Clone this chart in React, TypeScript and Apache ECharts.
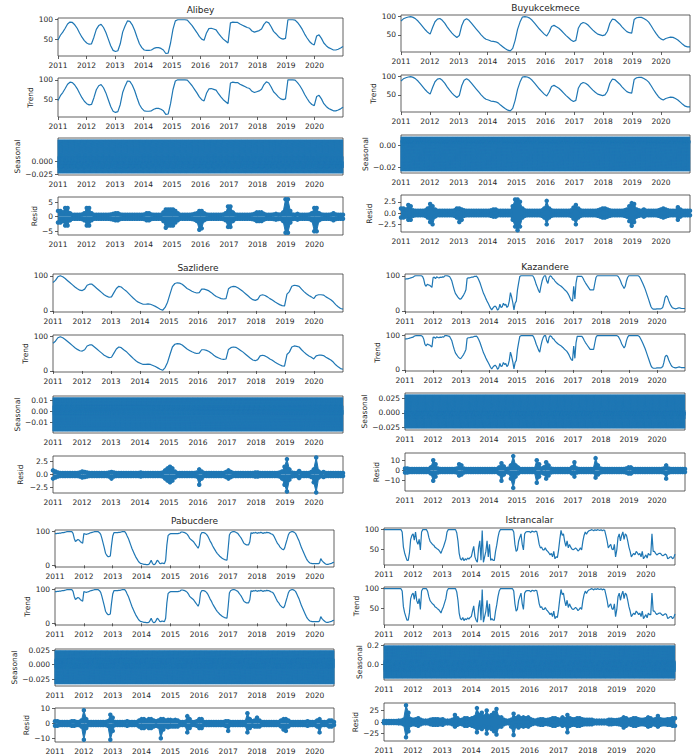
import React, { useEffect, useRef } from "react";
import * as echarts from "echarts";

const YEARS = [2011, 2012, 2013, 2014, 2015, 2016, 2017, 2018, 2019, 2020];

// ---------------- Alibey (monthly) ----------------
const alibeyObserved = [
  48, 60, 68, 78, 89, 94, 93, 87, 78, 66, 55, 46,
  40, 37, 38, 55, 75, 85, 88, 80, 67, 50, 33, 21,
  18, 20, 38, 68, 84, 97, 96, 87, 73, 55, 38, 28,
  22, 21, 21, 22, 26, 28, 28, 26, 22, 13, 14, 40,
  75, 97, 100, 100, 100, 100, 99, 92, 85, 76, 67, 57,
  50, 47, 66, 77, 78, 76, 74, 65, 57, 50, 45, 40,
  92, 94, 93, 93, 89, 86, 83, 80, 78, 71, 68, 70,
  72, 76, 88, 95, 92, 82, 70, 64, 57, 52, 50, 52,
  100, 100, 100, 99, 93, 85, 75, 63, 53, 44, 38, 35,
  58, 61, 52, 40, 33, 28, 25, 22, 22, 24, 27, 31,
];
const alibeyTrend = alibeyObserved.slice();
const alibeySeasonal = [0.0425, -0.005, -0.0228, 0.01, -0.012, 0.0, -0.0127];
const alibeyResidUpper = [
  2.0, 2.0, 1.5, 3.0, 3.0, 1.2, 0.7, 0.7, 0.7, 0.7, 0.8, 1.2,
  3.0, 3.0, 1.2, 0.7, 0.7, 0.7, 0.7, 0.7, 0.7, 0.7, 0.8, 1.0,
  1.2, 1.2, 0.8, 0.7, 0.7, 0.7, 0.7, 0.7, 0.7, 0.7, 0.7, 0.7,
  0.8, 1.2, 1.2, 0.8, 0.7, 0.7, 0.7, 0.7, 1.5, 2.5, 2.5, 2.5,
  2.5, 2.0, 1.2, 0.7, 0.7, 0.7, 0.7, 0.7, 0.8, 1.0, 1.2, 2.0,
  2.0, 1.2, 0.8, 0.7, 0.7, 0.7, 0.7, 0.7, 0.7, 0.8, 1.2, 3.5,
  3.5, 1.5, 0.8, 0.7, 0.7, 0.7, 0.7, 0.7, 0.7, 0.8, 1.0, 1.5,
  1.5, 1.5, 1.0, 0.7, 0.7, 0.7, 0.8, 1.0, 0.8, 0.8, 1.5, 6.0,
  6.0, 2.0, 0.8, 0.7, 1.0, 0.7, 0.7, 0.7, 0.7, 0.8, 1.2, 3.0,
  3.0, 1.2, 0.8, 0.7, 0.7, 0.7, 0.8, 1.2, 0.8, 0.7, 0.7, 0.7,
];
const alibeyResidLower = [
  -2.0, -2.0, -1.5, -3.0, -3.0, -1.2, -0.7, -0.7, -0.7, -0.7, -0.8, -1.2,
  -3.0, -3.0, -1.2, -0.7, -0.7, -0.7, -0.7, -0.7, -0.7, -0.7, -0.8, -1.0,
  -1.2, -1.2, -0.8, -0.7, -0.7, -0.7, -0.7, -0.7, -0.7, -0.7, -0.7, -0.7,
  -0.8, -1.2, -1.2, -0.8, -0.7, -0.7, -0.7, -0.7, -1.5, -3.8, -3.0, -3.0,
  -3.0, -2.0, -1.2, -0.7, -0.7, -0.7, -0.7, -0.7, -0.8, -1.0, -1.5, -4.5,
  -4.0, -1.2, -0.8, -0.7, -0.7, -0.7, -0.7, -0.7, -0.7, -0.8, -1.2, -3.5,
  -3.5, -1.5, -0.8, -0.7, -0.7, -0.7, -0.7, -0.7, -0.7, -0.8, -1.0, -1.5,
  -1.5, -1.5, -1.0, -0.7, -0.7, -0.7, -0.8, -1.0, -0.8, -0.8, -1.5, -5.5,
  -5.5, -2.0, -0.8, -0.7, -1.0, -0.7, -0.7, -0.7, -0.7, -0.8, -1.2, -5.0,
  -5.0, -1.2, -0.8, -0.7, -0.7, -0.7, -0.8, -1.2, -0.8, -0.7, -0.7, -0.7,
];
const alibeyObsTicks = [50, 100];
const alibeySeasTicks = [-0.025, 0];
const alibeyResidTicks = [-5, 0, 5];

// ---------------- Buyukcekmece (monthly) ----------------
const buyukObserved = [
  88, 94, 97, 99, 100, 98, 94, 88, 80, 72, 64, 57,
  52, 70, 86, 93, 95, 90, 82, 72, 63, 55, 48, 43,
  48, 75, 90, 94, 90, 82, 74, 66, 58, 50, 43, 38,
  36, 33, 32, 31, 28, 22, 17, 12, 8, 6, 13, 35,
  65, 85, 99, 100, 99, 96, 90, 82, 74, 66, 59, 52,
  47, 58, 73, 76, 72, 68, 62, 55, 48, 42, 36, 32,
  35, 68, 80, 84, 82, 77, 70, 63, 57, 52, 50, 48,
  50, 60, 82, 93, 92, 86, 80, 72, 65, 59, 56, 55,
  92, 97, 98, 98, 95, 91, 85, 75, 64, 54, 45, 39,
  36, 40, 42, 44, 43, 40, 36, 30, 24, 19, 17, 17,
];
const buyukTrend = buyukObserved.slice();
const buyukSeasonal = [0.008, -0.0234, 0.005, 0.003, 0.004, 0.002, 0.0014];
const buyukResidUpper = [
  1.0, 1.0, 0.8, 1.8, 1.5, 0.6, 0.5, 0.5, 0.5, 0.5, 0.6, 1.0,
  2.0, 1.5, 0.8, 0.5, 0.5, 0.5, 0.5, 0.5, 0.5, 0.5, 0.6, 1.0,
  1.0, 0.8, 0.6, 0.5, 0.5, 0.5, 0.5, 0.5, 0.5, 0.5, 0.5, 0.5,
  0.5, 0.6, 0.8, 0.8, 0.5, 0.5, 0.5, 0.5, 0.5, 0.5, 1.5, 3.0,
  3.0, 2.5, 1.0, 0.6, 0.5, 0.5, 0.5, 0.5, 0.5, 0.5, 0.6, 1.0,
  2.7, 1.0, 0.6, 0.5, 0.5, 0.5, 0.5, 0.5, 0.5, 0.5, 0.6, 1.2,
  1.8, 1.0, 0.6, 0.5, 0.5, 0.5, 0.5, 0.5, 0.5, 0.6, 0.8, 1.0,
  1.0, 0.8, 0.6, 0.5, 0.5, 0.5, 0.5, 0.5, 0.6, 0.8, 1.5, 2.2,
  2.0, 0.8, 0.6, 0.5, 0.8, 0.5, 0.5, 0.5, 0.5, 0.5, 0.6, 0.8,
  1.0, 0.8, 0.6, 0.5, 0.5, 0.5, 1.3, 0.8, 0.5, 0.5, 0.5, 0.5,
];
const buyukResidLower = [
  -1.0, -1.0, -0.8, -1.5, -1.5, -0.6, -0.5, -0.5, -0.5, -0.5, -0.6, -1.0,
  -2.0, -2.5, -0.8, -0.5, -0.5, -0.5, -0.5, -0.5, -0.5, -0.5, -0.6, -1.0,
  -2.0, -1.5, -0.6, -0.5, -0.5, -0.5, -0.5, -0.5, -0.5, -0.5, -0.5, -0.5,
  -0.5, -0.6, -0.8, -0.8, -0.5, -0.5, -0.5, -0.5, -0.5, -0.5, -1.5, -3.0,
  -3.8, -3.0, -1.0, -0.6, -0.5, -0.5, -0.5, -0.5, -0.5, -0.5, -0.6, -1.0,
  -2.5, -1.0, -0.6, -0.5, -0.5, -0.5, -0.5, -0.5, -0.5, -0.5, -0.6, -1.2,
  -2.5, -1.0, -0.6, -0.5, -0.5, -0.5, -0.5, -0.5, -0.5, -0.6, -0.8, -1.0,
  -1.0, -0.8, -0.6, -0.5, -0.5, -0.5, -0.5, -0.5, -0.6, -0.8, -1.8, -2.8,
  -2.0, -0.8, -0.6, -0.5, -0.8, -0.5, -0.5, -0.5, -0.5, -0.5, -0.6, -0.8,
  -1.0, -0.8, -0.6, -0.5, -0.5, -0.5, -1.5, -0.8, -0.5, -0.5, -0.5, -0.5,
];
const buyukObsTicks = [50, 100];
const buyukSeasTicks = [-0.02, 0];
const buyukResidTicks = [-2.5, 0, 2.5];

// ---------------- Sazlidere (monthly) ----------------
const sazObserved = [
  81, 87, 97, 100, 97, 92, 86, 80, 74, 68, 63, 59,
  58, 62, 73, 76, 76, 70, 64, 58, 52, 46, 42, 39,
  40, 52, 64, 70, 68, 62, 57, 50, 43, 36, 30, 25,
  22, 19, 19, 20, 19, 16, 13, 9, 5, 2, 10, 25,
  48, 70, 78, 80, 79, 76, 70, 64, 60, 56, 53, 51,
  52, 62, 62, 60, 57, 52, 46, 41, 38, 35, 34, 35,
  63, 68, 70, 69, 65, 60, 55, 49, 43, 37, 32, 30,
  33, 44, 46, 44, 40, 35, 31, 26, 22, 18, 15, 14,
  48, 55, 70, 73, 72, 70, 62, 55, 49, 44, 40, 35,
  44, 46, 46, 45, 40, 36, 32, 26, 18, 12, 7, 5,
];
const sazTrend = sazObserved.slice();
const sazSeasonal = [0.0123, -0.018, 0.005, 0.002, -0.003, 0.001, 0.0007];
const sazResidUpper = [
  0.8, 0.6, 0.4, 0.3, 0.3, 0.3, 0.3, 0.3, 0.3, 0.3, 0.3, 0.4,
  0.6, 0.5, 0.4, 0.3, 0.3, 0.3, 0.3, 0.3, 0.3, 0.3, 0.3, 0.4,
  0.5, 0.4, 0.3, 0.3, 0.3, 0.3, 0.3, 0.3, 0.3, 0.3, 0.3, 0.3,
  0.4, 0.3, 0.3, 0.3, 0.3, 0.3, 0.3, 0.3, 0.3, 0.4, 0.8, 1.2,
  1.5, 1.2, 0.6, 0.3, 0.3, 0.3, 0.3, 0.3, 0.3, 0.3, 0.3, 0.4,
  1.0, 0.6, 0.3, 0.3, 0.3, 0.3, 0.3, 0.3, 0.3, 0.3, 0.3, 0.5,
  0.8, 0.5, 0.3, 0.3, 0.3, 0.3, 0.3, 0.3, 0.3, 0.3, 0.3, 0.4,
  0.4, 0.3, 0.3, 0.3, 0.3, 0.3, 0.3, 0.3, 0.3, 0.4, 0.6, 1.5,
  3.0, 1.0, 0.4, 0.3, 0.3, 0.7, 0.3, 0.3, 0.3, 0.3, 0.5, 1.0,
  3.3, 0.6, 0.3, 0.5, 0.3, 0.3, 0.3, 0.3, 0.3, 0.3, 0.3, 0.3,
];
const sazResidLower = [
  -0.8, -0.6, -0.4, -0.3, -0.3, -0.3, -0.3, -0.3, -0.3, -0.3, -0.3, -0.4,
  -0.6, -0.5, -0.4, -0.3, -0.3, -0.3, -0.3, -0.3, -0.3, -0.3, -0.3, -0.4,
  -0.8, -0.4, -0.3, -0.3, -0.3, -0.3, -0.3, -0.3, -0.3, -0.3, -0.3, -0.3,
  -0.4, -0.3, -0.3, -0.3, -0.3, -0.3, -0.3, -0.3, -0.3, -0.4, -0.8, -1.2,
  -1.5, -1.2, -0.6, -0.3, -0.3, -0.3, -0.3, -0.3, -0.3, -0.3, -0.3, -0.4,
  -2.0, -0.8, -0.3, -0.3, -0.3, -0.3, -0.3, -0.3, -0.3, -0.3, -0.3, -0.5,
  -0.8, -0.5, -0.3, -0.3, -0.3, -0.3, -0.3, -0.3, -0.3, -0.3, -0.3, -0.4,
  -0.4, -0.3, -0.3, -0.3, -0.3, -0.3, -0.3, -0.3, -0.3, -0.4, -0.8, -2.0,
  -3.3, -1.0, -0.4, -0.3, -0.3, -0.7, -0.3, -0.3, -0.3, -0.3, -0.5, -1.5,
  -3.5, -0.6, -0.3, -0.5, -0.3, -0.3, -0.3, -0.3, -0.3, -0.3, -0.3, -0.3,
];
const sazObsTicks = [0, 100];
const sazSeasTicks = [-0.01, 0, 0.01];
const sazResidTicks = [-2.5, 0, 2.5];

// ---------------- Kazandere (semi-monthly) ----------------
const kazObserved = [
  90, 91, 91, 92, 93, 94, 95, 96, 99, 100, 100, 100, 100, 100, 100, 98, 90, 75, 70, 76, 74, 73, 70, 67,
  95, 96, 92, 97, 95, 94, 96, 95, 97, 96, 100, 100, 100, 99, 98, 92, 85, 72, 60, 50, 45, 40, 36, 33,
  35, 40, 45, 52, 60, 92, 94, 94, 95, 96, 96, 98, 98, 99, 95, 88, 80, 70, 60, 50, 43, 35, 28, 22,
  15, 8, 3, 8, 12, 14, 10, 2, 6, 19, 10, 12, 22, 16, 19, 10, 14, 28, 52, 40, 24, 3, 22, 28,
  60, 80, 98, 100, 100, 100, 100, 100, 100, 100, 100, 100, 100, 100, 95, 86, 75, 67, 58, 52, 70, 85, 95, 100,
  100, 85, 78, 95, 100, 98, 92, 90, 85, 81, 78, 75, 73, 71, 68, 65, 61, 58, 55, 50, 44, 36, 30, 28,
  70, 34, 80, 98, 98, 98, 98, 98, 93, 86, 80, 75, 70, 65, 60, 60, 60, 60, 78, 95, 100, 100, 100, 100,
  100, 100, 100, 100, 100, 100, 100, 100, 100, 100, 100, 100, 100, 100, 98, 92, 85, 76, 70, 64, 70, 85, 95, 100,
  100, 100, 100, 100, 100, 100, 100, 100, 98, 92, 85, 78, 70, 62, 52, 42, 32, 22, 12, 7, 5, 5, 5, 6,
  6, 6, 6, 7, 10, 22, 38, 43, 40, 30, 22, 15, 10, 8, 7, 6, 7, 8, 9, 8, 7, 7, 7, 7,
];
const kazTrend = kazObserved.slice();
const kazSeasonal = [0.031, -0.026, 0.005, -0.01, 0.002, -0.004, 0.002];
const kazResidUpper = [
  2.0, 2.0, 1.5, 1.5, 1.5, 1.5, 1.5, 1.5, 1.5, 1.5, 1.5, 3.0,
  10.0, 6.0, 2.0, 1.5, 1.5, 1.5, 1.5, 1.5, 1.5, 1.5, 2.0, 6.0,
  5.0, 2.0, 1.5, 1.5, 1.5, 1.5, 1.5, 1.5, 1.5, 1.5, 1.5, 1.5,
  1.5, 1.5, 1.5, 1.5, 3.0, 7.0, 4.0, 1.5, 2.0, 5.0, 14.0, 5.0,
  3.0, 1.5, 1.5, 1.5, 1.5, 1.5, 1.5, 1.5, 10.0, 6.0, 2.0, 3.0,
  8.0, 5.0, 2.0, 1.5, 1.5, 1.5, 1.5, 1.5, 1.5, 1.5, 1.5, 3.0,
  8.0, 2.0, 1.5, 1.5, 1.5, 1.5, 1.5, 1.5, 1.5, 12.0, 5.0, 2.0,
  1.5, 1.5, 1.5, 1.5, 1.5, 1.5, 1.5, 1.5, 1.5, 1.5, 2.0, 3.0,
  3.0, 1.5, 1.5, 1.5, 1.5, 1.5, 1.5, 1.5, 1.5, 1.5, 1.5, 1.5,
  1.5, 1.5, 2.0, 5.0, 2.0, 1.5, 1.5, 1.5, 1.5, 1.5, 1.5, 1.5,
];
const kazResidLower = [
  -2.0, -2.0, -1.5, -1.5, -1.5, -1.5, -1.5, -1.5, -1.5, -1.5, -1.5, -3.0,
  -10.0, -6.0, -2.0, -1.5, -1.5, -1.5, -1.5, -1.5, -1.5, -1.5, -2.0, -5.0,
  -4.0, -2.0, -1.5, -1.5, -1.5, -1.5, -1.5, -1.5, -1.5, -1.5, -1.5, -1.5,
  -1.5, -1.5, -1.5, -1.5, -3.0, -10.0, -4.0, -1.5, -2.0, -8.0, -17.0, -6.0,
  -3.0, -1.5, -1.5, -1.5, -1.5, -1.5, -1.5, -1.5, -12.0, -6.0, -2.0, -3.0,
  -8.0, -5.0, -2.0, -1.5, -1.5, -1.5, -1.5, -1.5, -1.5, -1.5, -1.5, -3.0,
  -6.0, -2.0, -1.5, -1.5, -1.5, -1.5, -1.5, -1.5, -1.5, -7.0, -4.0, -2.0,
  -1.5, -1.5, -1.5, -1.5, -1.5, -1.5, -1.5, -1.5, -1.5, -1.5, -2.0, -3.0,
  -3.0, -1.5, -1.5, -1.5, -1.5, -1.5, -1.5, -1.5, -1.5, -1.5, -1.5, -1.5,
  -1.5, -1.5, -2.0, -8.0, -2.0, -1.5, -1.5, -1.5, -1.5, -1.5, -1.5, -1.5,
];
const kazObsTicks = [0, 100];
const kazSeasTicks = [-0.025, 0, 0.025];
const kazResidTicks = [-10, 0, 10];

// ---------------- Pabucdere (semi-monthly, ends 2020.67) ----------------
const pabObserved = [
  94, 94, 95, 95, 96, 96, 97, 97, 98, 99, 100, 100, 100, 100, 100, 95, 80, 71, 74, 77, 75, 71, 68, 66,
  94, 93, 92, 93, 94, 96, 97, 98, 99, 100, 100, 100, 100, 97, 92, 80, 66, 52, 36, 30, 26, 26, 28, 60,
  87, 97, 97, 97, 97, 98, 98, 99, 100, 100, 100, 95, 87, 80, 70, 60, 50, 42, 34, 26, 20, 14, 9, 6,
  5, 4, 3, 3, 2, 2, 3, 8, 15, 6, 2, 3, 8, 15, 12, 6, 5, 7, 6, 5, 15, 60, 88, 92,
  94, 94, 94, 94, 94, 94, 94, 95, 96, 99, 99, 98, 97, 95, 92, 87, 80, 77, 74, 71, 66, 61, 56, 51,
  60, 90, 97, 97, 97, 95, 92, 87, 80, 72, 66, 58, 52, 46, 40, 35, 31, 27, 24, 21, 19, 17, 16, 15,
  50, 90, 97, 99, 100, 100, 99, 97, 95, 90, 85, 80, 73, 66, 63, 61, 61, 61, 70, 97, 95, 97, 96, 98,
  95, 97, 96, 98, 97, 95, 97, 96, 98, 97, 97, 95, 93, 92, 87, 80, 72, 65, 61, 55, 51, 48, 46, 52,
  65, 77, 90, 97, 99, 100, 100, 98, 95, 88, 80, 72, 62, 52, 44, 36, 28, 20, 14, 10, 7, 6, 5, 5,
  5, 5, 5, 5, 7, 20, 14, 10, 7, 4, 3, 3, 4, 5, 6, 8, 9,
];
const pabTrend = pabObserved.slice();
const pabSeasonal = [0.024, -0.033, 0.01, -0.005, 0.008, -0.006, 0.002];
const pabResidUpper = [
  1.5, 1.5, 1.0, 1.0, 1.0, 1.0, 1.0, 1.5, 1.5, 1.0, 1.0, 2.0,
  9.0, 3.0, 1.0, 1.0, 1.0, 1.0, 1.0, 1.0, 1.0, 1.0, 1.5, 6.0,
  4.0, 1.0, 1.0, 1.0, 1.0, 1.0, 1.5, 1.0, 1.0, 1.0, 1.0, 2.0,
  3.0, 3.0, 2.0, 3.0, 3.0, 2.0, 1.5, 2.0, 3.0, 3.0, 2.0, 2.5,
  2.5, 2.0, 2.5, 2.0, 1.0, 1.0, 1.0, 5.0, 3.0, 1.0, 1.0, 1.5,
  3.0, 3.0, 1.0, 1.0, 1.0, 1.0, 1.0, 1.0, 1.0, 1.0, 1.0, 1.5,
  1.5, 1.0, 1.0, 1.0, 1.0, 1.0, 1.0, 1.0, 7.0, 3.0, 1.5, 2.0,
  4.0, 2.0, 1.0, 1.0, 1.0, 1.0, 1.0, 1.0, 1.0, 1.0, 2.0, 3.0,
  3.0, 2.0, 1.0, 1.0, 1.0, 1.0, 1.0, 1.0, 1.0, 1.5, 1.0, 1.0,
  1.0, 2.0, 3.0, 1.0, 1.0, 1.0, 2.0, 2.0, 1.0,
];
const pabResidLower = [
  -1.5, -1.5, -1.0, -1.0, -1.0, -1.0, -1.0, -1.5, -1.5, -1.0, -1.0, -2.0,
  -11.0, -3.0, -1.0, -1.0, -1.0, -1.0, -1.0, -1.0, -1.0, -1.0, -1.5, -11.0,
  -5.0, -1.0, -1.0, -1.0, -1.0, -1.0, -1.5, -1.0, -1.0, -1.0, -1.0, -2.0,
  -3.0, -3.0, -2.0, -3.0, -3.0, -2.0, -1.5, -2.0, -10.0, -4.0, -2.0, -2.5,
  -2.0, -2.0, -2.0, -2.0, -1.0, -1.0, -1.0, -6.0, -3.0, -1.0, -1.0, -1.5,
  -3.0, -3.0, -1.0, -1.0, -1.0, -1.0, -1.0, -1.0, -1.0, -1.0, -1.0, -1.5,
  -5.0, -1.0, -1.0, -1.0, -1.0, -1.0, -1.0, -1.0, -6.0, -3.0, -1.5, -2.0,
  -2.0, -2.0, -1.0, -1.0, -1.0, -1.0, -1.0, -1.0, -1.0, -1.0, -2.0, -4.0,
  -5.0, -2.0, -1.0, -1.0, -1.0, -1.0, -1.0, -1.0, -1.0, -1.5, -1.0, -1.0,
  -1.0, -2.0, -6.0, -1.0, -1.0, -1.0, -2.0, -2.0, -1.0,
];
const pabObsTicks = [0, 100];
const pabSeasTicks = [-0.025, 0, 0.025];
const pabResidTicks = [-10, 0, 10];

// ---------------- Istrancalar (semi-monthly) ----------------
const istObserved = [
  100, 100, 100, 100, 100, 100, 100, 100, 100, 100, 100, 100, 100, 100, 100, 94, 55, 40, 30, 21, 21, 40, 75, 85,
  89, 73, 94, 70, 62, 75, 48, 94, 100, 100, 100, 100, 94, 80, 70, 66, 62, 60, 55, 53, 50, 48, 44, 39,
  48, 55, 65, 75, 94, 100, 100, 100, 100, 100, 100, 100, 92, 71, 39, 25, 22, 28, 20, 25, 22, 27, 24, 28,
  30, 44, 57, 30, 21, 16, 53, 71, 21, 98, 16, 30, 44, 71, 30, 62, 21, 25, 21, 21, 44, 60, 80, 94,
  100, 100, 100, 100, 100, 100, 100, 100, 100, 100, 100, 94, 62, 44, 48, 70, 80, 89, 62, 48, 89, 94, 95, 95,
  95, 92, 96, 95, 94, 96, 95, 80, 62, 53, 55, 48, 48, 53, 47, 44, 40, 35, 39, 30, 44, 25, 30, 28,
  48, 75, 98, 85, 89, 70, 57, 71, 53, 62, 55, 50, 48, 50, 53, 50, 45, 48, 53, 48, 70, 85, 94, 88,
  94, 97, 98, 100, 99, 97, 100, 98, 100, 99, 98, 100, 97, 99, 98, 85, 71, 53, 58, 62, 50, 48, 62, 30,
  48, 80, 89, 71, 85, 94, 75, 89, 85, 71, 55, 44, 30, 35, 39, 35, 44, 40, 35, 39, 30, 44, 25, 30,
  35, 27, 39, 35, 35, 89, 44, 44, 39, 35, 37, 39, 39, 35, 33, 35, 37, 35, 25, 27, 30, 30, 25, 28, 37,
];
const istTrend = istObserved.slice();
const istSeasonal = [0.197, -0.15, 0.04, -0.06, 0.02, -0.08, 0.033];
const istResidUpper = [
  2, 2, 2, 2, 2, 2, 3, 3, 5, 36, 20, 6,
  5, 6, 8, 5, 3, 3, 3, 5, 6, 6, 6, 5,
  6, 3, 3, 3, 5, 15, 8, 4, 5, 8, 8, 6,
  8, 10, 30, 15, 20, 12, 25, 12, 15, 20, 28, 10,
  10, 5, 3, 3, 5, 18, 8, 12, 8, 10, 8, 10,
  6, 4, 3, 5, 6, 6, 4, 5, 6, 8, 8, 6,
  5, 10, 6, 15, 8, 6, 6, 8, 8, 6, 5, 5,
  5, 5, 3, 3, 3, 3, 3, 3, 5, 5, 4, 4,
  5, 6, 10, 8, 5, 6, 8, 8, 6, 5, 5, 6,
  10, 8, 5, 6, 13, 6, 5, 5, 6, 6, 8, 8,
];
const istResidLower = [
  -2, -2, -2, -2, -2, -2, -3, -3, -5, -33, -20, -6,
  -5, -6, -8, -5, -3, -3, -3, -5, -6, -6, -6, -5,
  -6, -3, -3, -3, -5, -10, -6, -4, -5, -8, -8, -6,
  -8, -10, -22, -12, -15, -10, -25, -12, -15, -20, -27, -10,
  -10, -5, -3, -3, -10, -28, -8, -12, -8, -10, -8, -10,
  -6, -4, -3, -5, -6, -6, -4, -5, -6, -8, -8, -6,
  -5, -8, -6, -22, -8, -6, -6, -8, -8, -6, -5, -5,
  -5, -5, -3, -3, -3, -3, -3, -3, -5, -5, -4, -4,
  -5, -6, -12, -8, -5, -6, -8, -8, -6, -5, -5, -6,
  -10, -8, -5, -6, -10, -6, -5, -5, -6, -6, -8, -8,
];
const istObsTicks = [50, 100];
const istSeasTicks = [0, 0.2];
const istResidTicks = [-25, 0, 25];

// ---------------- layout ----------------
const BLUE = "#1f77b4";
const TXT = "#262626";
const FRAME = "#3a3a3a";
const FONT = "DejaVu Sans";
const NAMES = ["", "Trend", "Seasonal", "Resid"];

const PANELS = [
  {
    title: "Alibey", left: 58, right: 343, titleY: 10, tops: [18, 78, 138, 197], heights: [38, 39, 37, 38], xEnd: 2021,
    obs: alibeyObserved, trend: alibeyTrend, seas: alibeySeasonal, ru: alibeyResidUpper, rl: alibeyResidLower,
    ranges: [[6.5, 104.5], [6.5, 104.5], [-0.0263, 0.046], [-6.3, 6.8]],
    ticks: [alibeyObsTicks, alibeyObsTicks, alibeySeasTicks, alibeyResidTicks], dec: [0, 0, 3, 0], gaps: [0, 23, 36, 19],
  },
  {
    title: "Buyukcekmece", left: 401, right: 690, titleY: 8, tops: [15, 75, 135, 195], heights: [37, 37, 38, 37], xEnd: 2021,
    obs: buyukObserved, trend: buyukTrend, seas: buyukSeasonal, ru: buyukResidUpper, rl: buyukResidLower,
    ranges: [[3, 104.5], [3, 104.5], [-0.0251, 0.0097], [-4.2, 4.0]],
    ticks: [buyukObsTicks, buyukObsTicks, buyukSeasTicks, buyukResidTicks], dec: [0, 0, 2, 1], gaps: [0, 22, 32, 23],
  },
  {
    title: "Sazlidere", left: 53, right: 343, titleY: 268, tops: [274, 335, 396, 456], heights: [38, 37, 37, 37], xEnd: 2021,
    obs: sazObserved, trend: sazTrend, seas: sazSeasonal, ru: sazResidUpper, rl: sazResidLower,
    ranges: [[-3, 105], [-3, 105], [-0.0196, 0.0138], [-3.6, 3.6]],
    ticks: [sazObsTicks, sazObsTicks, sazSeasTicks, sazResidTicks], dec: [0, 0, 2, 1], gaps: [0, 21, 31, 29],
  },
  {
    title: "Kazandere", left: 405, right: 685, titleY: 267, tops: [274, 334, 393, 453], heights: [38, 37, 37, 38], xEnd: 2021,
    obs: kazObserved, trend: kazTrend, seas: kazSeasonal, ru: kazResidUpper, rl: kazResidLower,
    ranges: [[-3, 105], [-3, 105], [-0.029, 0.034], [-20, 17]],
    ticks: [kazObsTicks, kazObsTicks, kazSeasTicks, kazResidTicks], dec: [0, 0, 3, 0], gaps: [0, 23, 35, 23],
  },
  {
    title: "Pabucdere", left: 55, right: 334, titleY: 521, tops: [530, 588, 649, 708], heights: [37, 37, 37, 34], xEnd: 2020.667,
    obs: pabObserved, trend: pabTrend, seas: pabSeasonal, ru: pabResidUpper, rl: pabResidLower,
    ranges: [[-5, 105], [-5, 105], [-0.0362, 0.0267], [-12.5, 10.5]],
    ticks: [pabObsTicks, pabObsTicks, pabSeasTicks, pabResidTicks], dec: [0, 0, 3, 0], gaps: [0, 21, 35, 23],
  },
  {
    title: "Istrancalar", left: 384, right: 675, titleY: 520, tops: [528, 587, 644, 703], heights: [37, 38, 36, 38], xEnd: 2021,
    obs: istObserved, trend: istTrend, seas: istSeasonal, ru: istResidUpper, rl: istResidLower,
    ranges: [[9, 104.2], [9, 104.2], [-0.168, 0.215], [-41, 41]],
    ticks: [istObsTicks, istObsTicks, istSeasTicks, istResidTicks], dec: [0, 0, 1, 0], gaps: [0, 23, 18, 22],
  },
];

function spread(vals: number[], xEnd: number) {
  const n = vals.length;
  return vals.map((v, i) => [2011 + (i * (xEnd - 2011)) / (n - 1), v]);
}

function daily(period: number[], xEnd: number) {
  const days = Math.round((xEnd - 2011) * 365.25);
  const out: number[][] = [];
  for (let d = 0; d <= days; d++) out.push([2011 + d / 365.25, period[d % period.length]]);
  return out;
}

function fmt(dec: number) {
  return (v: number) => {
    const s = Math.abs(v) < 1e-12 ? (0).toFixed(dec) : v.toFixed(dec);
    return s.replace("-", "\u2212");
  };
}

function buildOption() {
  const grid: any[] = [];
  const xAxis: any[] = [];
  const yAxis: any[] = [];
  const series: any[] = [];
  const graphic: any[] = [];

  PANELS.forEach((p, pi) => {
    graphic.push({
      type: "text",
      x: (p.left + p.right) / 2,
      y: p.titleY,
      style: { text: p.title, fontSize: 9, fill: TXT, fontFamily: FONT, align: "center", verticalAlign: "middle" },
    });
    for (let s = 0; s < 4; s++) {
      const g = pi * 4 + s;
      grid.push({
        left: p.left, top: p.tops[s], width: p.right - p.left, height: p.heights[s],
        show: true, borderColor: FRAME, borderWidth: 0.8, backgroundColor: "transparent",
      });
      xAxis.push({
        type: "value", gridIndex: g, min: 2011, max: p.xEnd,
        axisLine: { show: false }, splitLine: { show: false },
        axisTick: { show: true, customValues: YEARS, length: 3, lineStyle: { color: FRAME, width: 0.8 } },
        axisLabel: { customValues: YEARS, margin: 5, fontSize: 7.5, color: TXT, fontFamily: FONT, formatter: (v: number) => String(Math.round(v)) },
      });
      const [mn, mx] = p.ranges[s];
      yAxis.push({
        type: "value", gridIndex: g, min: mn, max: mx,
        name: NAMES[s], nameLocation: "middle", nameGap: p.gaps[s],
        nameTextStyle: { fontSize: 7.5, color: TXT, fontFamily: FONT },
        axisLine: { show: false }, splitLine: { show: false },
        axisTick: { show: true, customValues: p.ticks[s], length: 3, lineStyle: { color: FRAME, width: 0.8 } },
        axisLabel: { customValues: p.ticks[s], margin: 5, fontSize: 7.5, color: TXT, fontFamily: FONT, formatter: fmt(p.dec[s]) },
      });
      if (s === 0 || s === 1) {
        series.push({
          type: "line", xAxisIndex: g, yAxisIndex: g, data: spread(s === 0 ? p.obs : p.trend, p.xEnd),
          showSymbol: false, lineStyle: { color: BLUE, width: 1.2 }, itemStyle: { color: BLUE },
        });
      } else if (s === 2) {
        series.push({
          type: "line", xAxisIndex: g, yAxisIndex: g, data: daily(p.seas, p.xEnd),
          showSymbol: false, lineStyle: { color: BLUE, width: 1 }, itemStyle: { color: BLUE },
        });
      } else {
        [p.ru, p.rl].forEach((arr) => {
          series.push({
            type: "line", xAxisIndex: g, yAxisIndex: g, data: spread(arr, p.xEnd),
            symbol: "circle", symbolSize: 4.5, showSymbol: true, showAllSymbol: true,
            itemStyle: { color: BLUE }, lineStyle: { color: BLUE, width: 1 },
            areaStyle: { color: BLUE, opacity: 1 },
          });
        });
      }
    }
  });

  return {
    animation: false,
    backgroundColor: "#ffffff",
    textStyle: { fontFamily: FONT },
    grid, xAxis, yAxis, series, graphic,
  };
}

export default function App() {
  const ref = useRef<HTMLDivElement>(null);
  useEffect(() => {
    if (!ref.current) return;
    const chart = echarts.init(ref.current, undefined, { renderer: "svg" });
    chart.setOption(buildOption() as any);
    return () => chart.dispose();
  }, []);
  return (
    <div
      ref={ref}
      style={{ position: "fixed", left: 0, top: 0, width: 697, height: 755, background: "#fff" }}
    />
  );
}
